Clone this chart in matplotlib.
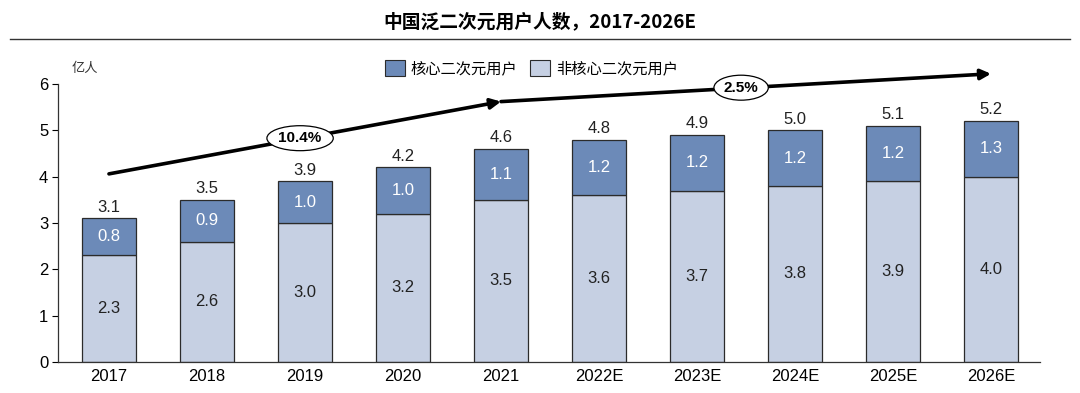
import matplotlib
matplotlib.use("Agg")
import matplotlib.pyplot as plt
from matplotlib.patches import Patch

plt.rcParams['font.family'] = ['Liberation Sans', 'Noto Sans CJK SC', 'DejaVu Sans']

years = ["2017", "2018", "2019", "2020", "2021", "2022E", "2023E", "2024E", "2025E", "2026E"]
non_core = [2.3, 2.6, 3.0, 3.2, 3.5, 3.6, 3.7, 3.8, 3.9, 4.0]
core = [0.8, 0.9, 1.0, 1.0, 1.1, 1.2, 1.2, 1.2, 1.2, 1.3]
totals = [3.1, 3.5, 3.9, 4.2, 4.6, 4.8, 4.9, 5.0, 5.1, 5.2]
cagr_labels = ["10.4%", "2.5%"]

dark = "#6C8AB8"
light = "#C6D0E3"
edge = "#2B2B2B"

fig = plt.figure(figsize=(10.8, 3.93), dpi=100)
ax = fig.add_axes([0.0537, 0.0789, 0.9093, 0.7074])

x = list(range(len(years)))
top_seg = [t - b for t, b in zip(totals, non_core)]
ax.bar(x, non_core, width=0.56, color=light, edgecolor=edge, linewidth=0.9, zorder=2)
ax.bar(x, top_seg, bottom=non_core, width=0.56, color=dark, edgecolor=edge, linewidth=0.9, zorder=2)

fs = 12
for i in x:
    ax.text(i, non_core[i] / 2, f"{non_core[i]:.1f}", ha="center", va="center", fontsize=fs, color="#222222", zorder=3)
    ax.text(i, non_core[i] + top_seg[i] / 2, f"{core[i]:.1f}", ha="center", va="center", fontsize=fs, color="white", zorder=3)
    ax.text(i, totals[i] + 0.08, f"{totals[i]:.1f}", ha="center", va="bottom", fontsize=fs, color="#222222", zorder=3)

ax.set_xlim(-0.52, 9.5)
ax.set_ylim(0, 6)
ax.set_xticks(x)
ax.set_xticklabels(years, fontsize=fs)
ax.set_yticks(range(7))
ax.tick_params(axis="y", labelsize=fs, length=4, width=0.8, direction="out", pad=3)
ax.tick_params(axis="x", length=0, pad=5)
for s in ["top", "right"]:
    ax.spines[s].set_visible(False)
for s in ["left", "bottom"]:
    ax.spines[s].set_color("#333333")
    ax.spines[s].set_linewidth(0.9)

# CAGR arrows
ap = dict(arrowstyle="-|>,head_length=0.6,head_width=0.3", color="black", lw=2.6, shrinkA=0, shrinkB=0)
ax.annotate("", xy=(4.0, 5.62), xytext=(0.0, 4.06), arrowprops=ap, annotation_clip=False, zorder=4)
ax.annotate("", xy=(9.0, 6.22), xytext=(4.0, 5.62), arrowprops=ap, annotation_clip=False, zorder=4)
ax.text(1.95, 4.83, cagr_labels[0], ha="center", va="center", fontsize=11, fontweight="bold",
        bbox=dict(boxstyle="ellipse,pad=0.12", fc="white", ec="black", lw=0.9), zorder=5, clip_on=False)
ax.text(6.45, 5.92, cagr_labels[1], ha="center", va="center", fontsize=11, fontweight="bold",
        bbox=dict(boxstyle="ellipse,pad=0.12", fc="white", ec="black", lw=0.9), zorder=5, clip_on=False)

# unit label
fig.text(0.066, 0.826, "亿人", fontsize=9.5, style="italic", color="#333333",
         family=["Noto Sans CJK SC"], ha="left", va="center")

# legend
handles = [Patch(facecolor=dark, edgecolor=edge, linewidth=0.8, label="核心二次元用户"),
           Patch(facecolor=light, edgecolor=edge, linewidth=0.8, label="非核心二次元用户")]
leg = fig.legend(handles=handles, loc="center", bbox_to_anchor=(0.492, 0.826), ncol=2, frameon=False,
                 prop={"family": ["Noto Sans CJK SC"], "size": 11}, handlelength=1.3, handleheight=1.2,
                 columnspacing=0.8, handletextpad=0.4)

# title and rule
fig.text(0.5, 0.945, "中国泛二次元用户人数，2017-2026E", ha="center", va="center", fontsize=13.5,
         fontweight="bold", family=["Noto Sans CJK SC", "Liberation Sans"])
fig.add_artist(plt.Line2D([0.009, 0.991], [0.902, 0.902], color="#333333", lw=1.0))

fig.savefig("out.png", dpi=100)
